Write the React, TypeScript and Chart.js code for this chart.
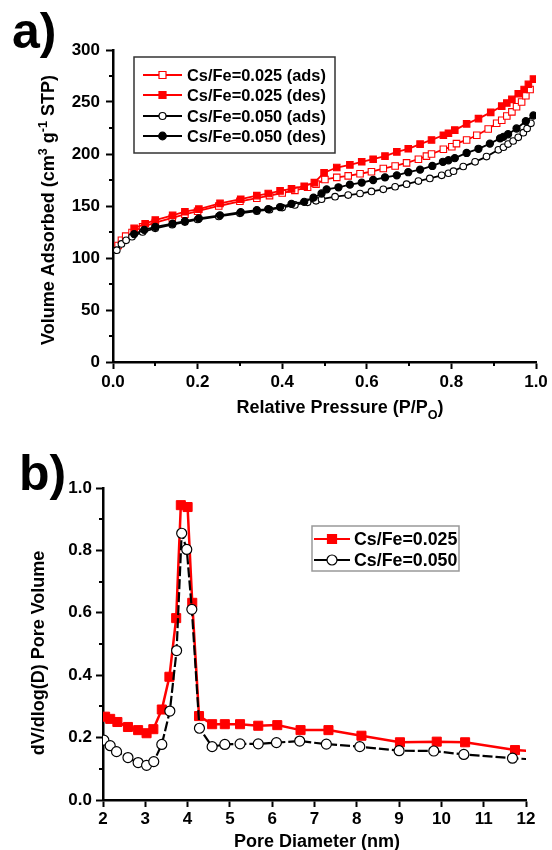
import React, { useEffect, useRef } from 'react';
import { Chart, registerables } from 'chart.js';

Chart.register(...registerables);

const FONT = '"Liberation Sans", Arial, Helvetica, sans-serif';
const RED = '#ff0000';
const BLACK = '#000000';

// ---------------- Panel a: N2 isotherms ----------------
const isoXTicks = [0, 0.2, 0.4, 0.6, 0.8, 1.0];
const isoYTicks = [0, 50, 100, 150, 200, 250, 300];
const isoXMinor = [0.1, 0.3, 0.5, 0.7, 0.9];
const isoYMinor = [25, 75, 125, 175, 225, 275];

const ads025P = [0.012, 0.02, 0.03, 0.045, 0.07, 0.1, 0.14, 0.17, 0.2, 0.25, 0.3, 0.34, 0.37, 0.40, 0.43, 0.46, 0.48, 0.501, 0.529, 0.556, 0.584, 0.611, 0.639, 0.667, 0.694, 0.722, 0.741, 0.753, 0.781, 0.801, 0.812, 0.836, 0.86, 0.887, 0.907, 0.919, 0.931, 0.943, 0.954, 0.966, 0.976, 0.986];
const ads025V = [112, 117, 121, 124.5, 130, 134, 138.5, 142, 145, 150, 154.5, 157.5, 160, 162.5, 165, 168, 171, 175.5, 177.5, 179, 181, 183, 186, 188.5, 191.5, 195, 198, 200, 204.5, 207, 210, 213.5, 218, 224, 229.5, 232.5, 236.5, 240.5, 245.5, 250, 256, 262];

const des025P = [0.05, 0.076, 0.10, 0.141, 0.17, 0.203, 0.253, 0.302, 0.34, 0.367, 0.395, 0.422, 0.452, 0.476, 0.499, 0.529, 0.56, 0.588, 0.615, 0.643, 0.671, 0.698, 0.726, 0.753, 0.781, 0.793, 0.808, 0.836, 0.864, 0.893, 0.919, 0.931, 0.943, 0.958, 0.972, 0.982, 0.994];
const des025V = [128.5, 133, 136.5, 141, 144.5, 147, 152.5, 156.5, 160, 162, 164.5, 166.5, 169, 172.5, 182, 187, 189.5, 192.5, 195, 198, 202, 205, 209.5, 213.5, 218, 220, 223, 229, 234, 240, 246, 249, 252.5, 258, 262, 267, 272];

const ads050P = [0.009, 0.02, 0.031, 0.045, 0.07, 0.1, 0.14, 0.17, 0.2, 0.25, 0.3, 0.34, 0.37, 0.40, 0.43, 0.46, 0.48, 0.493, 0.525, 0.556, 0.584, 0.611, 0.639, 0.667, 0.694, 0.722, 0.749, 0.777, 0.793, 0.805, 0.828, 0.856, 0.883, 0.911, 0.923, 0.934, 0.946, 0.958, 0.97, 0.979, 0.988];
const ads050V = [107.5, 113.5, 117, 120.5, 125, 128.5, 132, 134.5, 137, 140, 143, 145, 146.5, 148.5, 151, 153.5, 155, 156.5, 159, 160.5, 162, 164, 166, 168.5, 171, 174, 176.5, 179.5, 181.5, 183.5, 188, 192.5, 197.5, 204, 206.5, 209.5, 212.5, 216, 220.5, 224.5, 229.5];

const des050P = [0.05, 0.074, 0.10, 0.141, 0.17, 0.203, 0.253, 0.302, 0.34, 0.367, 0.395, 0.422, 0.452, 0.474, 0.493, 0.505, 0.533, 0.56, 0.588, 0.615, 0.643, 0.671, 0.698, 0.726, 0.755, 0.78, 0.793, 0.808, 0.836, 0.864, 0.891, 0.915, 0.923, 0.934, 0.954, 0.976, 0.994];
const des050V = [123, 127, 130, 133, 135.5, 138, 141, 144, 146, 147, 149, 152, 154, 158, 162, 166, 168, 170.5, 172.5, 175, 177.5, 179.5, 182.5, 185, 188.5, 192.5, 194, 196, 201, 205, 210, 215, 216.5, 219, 224.5, 231.5, 237];

const isoLabels = ['Cs/Fe=0.025 (ads)', 'Cs/Fe=0.025 (des)', 'Cs/Fe=0.050 (ads)', 'Cs/Fe=0.050 (des)'];

// ---------------- Panel b: pore size distribution ----------------
const psdXTicks = [2, 3, 4, 5, 6, 7, 8, 9, 10, 11, 12];
const psdYTicks = [0, 0.2, 0.4, 0.6, 0.8, 1.0];
const psdYMinor = [0.1, 0.3, 0.5, 0.7, 0.9];

const psd025D = [2.05, 2.17, 2.34, 2.59, 2.83, 3.03, 3.19, 3.39, 3.57, 3.73, 3.84, 4.0, 4.11, 4.27, 4.58, 4.88, 5.24, 5.67, 6.12, 6.67, 7.33, 8.11, 9.02, 9.89, 10.56, 11.74, 12.9];
const psd025V = [0.267, 0.26, 0.25, 0.234, 0.224, 0.214, 0.227, 0.29, 0.395, 0.583, 0.945, 0.939, 0.632, 0.269, 0.243, 0.243, 0.243, 0.238, 0.24, 0.224, 0.224, 0.206, 0.185, 0.187, 0.185, 0.16, 0.15];

const psd050D = [2.02, 2.17, 2.32, 2.59, 2.83, 3.03, 3.2, 3.39, 3.58, 3.74, 3.86, 3.98, 4.1, 4.28, 4.58, 4.88, 5.24, 5.67, 6.1, 6.65, 7.28, 8.07, 9.0, 9.82, 10.53, 11.68, 12.8];
const psd050V = [0.192, 0.174, 0.155, 0.136, 0.12, 0.111, 0.123, 0.178, 0.285, 0.479, 0.855, 0.803, 0.611, 0.23, 0.171, 0.178, 0.18, 0.18, 0.184, 0.189, 0.179, 0.171, 0.158, 0.157, 0.146, 0.134, 0.125];

const psdLabels = ['Cs/Fe=0.025', 'Cs/Fe=0.050'];

// ---------------- helpers ----------------
type Run = { t: string; s?: 'sup' | 'sub' };

const pts = (xs: number[], ys: number[]) => xs.map((x, i) => ({ x, y: ys[i] }));

function drawRuns(ctx: CanvasRenderingContext2D, runs: Run[], cx: number, cy: number, size: number, rotate: boolean) {
  ctx.save();
  ctx.translate(cx, cy);
  if (rotate) ctx.rotate(-Math.PI / 2);
  const small = size * 0.7;
  const widths = runs.map((r) => {
    ctx.font = `bold ${r.s ? small : size}px ${FONT}`;
    return ctx.measureText(r.t).width;
  });
  const total = widths.reduce((a, b) => a + b, 0);
  let x = -total / 2;
  ctx.textAlign = 'left';
  ctx.textBaseline = 'alphabetic';
  ctx.fillStyle = '#000';
  runs.forEach((r, i) => {
    ctx.font = `bold ${r.s ? small : size}px ${FONT}`;
    const dy = r.s === 'sup' ? -size * 0.42 : r.s === 'sub' ? size * 0.32 : 0;
    ctx.fillText(r.t, x, size * 0.36 + dy);
    x += widths[i];
  });
  ctx.restore();
}

function drawMarker(ctx: CanvasRenderingContext2D, style: string, x: number, y: number, r: number, fill: string, stroke: string, lw: number) {
  ctx.beginPath();
  if (style === 'rect') ctx.rect(x - r, y - r, 2 * r, 2 * r);
  else ctx.arc(x, y, r, 0, Math.PI * 2);
  ctx.fillStyle = fill;
  ctx.fill();
  ctx.lineWidth = lw;
  ctx.strokeStyle = stroke;
  ctx.stroke();
}

type LegendEntry = { label: string; color: string; style: string; fill: string; r: number; dash?: number[] };

type DecorCfg = {
  minorX: number[];
  minorY: number[];
  xTitle: Run[];
  xTitlePos: [number, number];
  yTitle: Run[];
  yTitlePos: [number, number];
  titleSize: number;
  letter: string;
  letterPos: [number, number];
  legendBox: [number, number, number, number];
  legendBorder: string;
  legendRows: number[];
  legendLine: [number, number];
  legendTextX: number;
  legendFont: number;
  entries: LegendEntry[];
};

function makeDecor(id: string, cfg: DecorCfg) {
  return {
    id,
    afterDraw(chart: any) {
      const ctx: CanvasRenderingContext2D = chart.ctx;
      const ca = chart.chartArea;
      const xs = chart.scales.x;
      const ys = chart.scales.y;
      ctx.save();
      // minor ticks
      ctx.strokeStyle = '#000';
      ctx.lineWidth = 2;
      ctx.beginPath();
      cfg.minorX.forEach((v) => {
        const p = Math.round(xs.getPixelForValue(v));
        ctx.moveTo(p, ca.bottom);
        ctx.lineTo(p, ca.bottom + 4);
      });
      cfg.minorY.forEach((v) => {
        const p = Math.round(ys.getPixelForValue(v));
        ctx.moveTo(ca.left, p);
        ctx.lineTo(ca.left - 4, p);
      });
      ctx.stroke();
      // titles
      drawRuns(ctx, cfg.xTitle, cfg.xTitlePos[0], cfg.xTitlePos[1], cfg.titleSize, false);
      drawRuns(ctx, cfg.yTitle, cfg.yTitlePos[0], cfg.yTitlePos[1], cfg.titleSize, true);
      // legend
      const [bx, by, bw, bh] = cfg.legendBox;
      ctx.lineWidth = 1.5;
      ctx.strokeStyle = cfg.legendBorder;
      ctx.strokeRect(bx, by, bw, bh);
      cfg.entries.forEach((e, i) => {
        const y = cfg.legendRows[i];
        ctx.beginPath();
        ctx.setLineDash([]);
        ctx.strokeStyle = e.color;
        ctx.lineWidth = 2.2;
        ctx.moveTo(cfg.legendLine[0], y);
        ctx.lineTo(cfg.legendLine[1], y);
        ctx.stroke();
        const mx = (cfg.legendLine[0] + cfg.legendLine[1]) / 2;
        drawMarker(ctx, e.style, mx, y, e.r, e.fill, e.color, 1.2);
        ctx.fillStyle = '#000';
        ctx.font = `bold ${cfg.legendFont}px ${FONT}`;
        ctx.textAlign = 'left';
        ctx.textBaseline = 'alphabetic';
        ctx.fillText(e.label, cfg.legendTextX, y + cfg.legendFont * 0.36);
      });
      // panel letter
      ctx.fillStyle = '#000';
      ctx.font = `bold 50px ${FONT}`;
      ctx.textAlign = 'left';
      ctx.textBaseline = 'alphabetic';
      ctx.fillText(cfg.letter, cfg.letterPos[0], cfg.letterPos[1]);
      ctx.restore();
    },
  };
}

function axisOpts(ticks: number[], min: number, max: number, fmt: (v: number) => string, fitSize: number, horizontal: boolean, pad: number) {
  return {
    type: 'linear' as const,
    min,
    max,
    afterBuildTicks: (scale: any) => {
      scale.ticks = ticks.map((v) => ({ value: v }));
    },
    afterFit: (scale: any) => {
      if (horizontal) scale.height = fitSize;
      else scale.width = fitSize;
    },
    grid: {
      display: true,
      drawOnChartArea: false,
      drawTicks: true,
      tickLength: 7,
      tickWidth: 2,
      tickColor: '#000',
    },
    border: { display: true, color: '#000', width: 2.5 },
    ticks: {
      color: '#000',
      padding: pad,
      maxRotation: 0,
      autoSkip: false,
      font: { family: FONT, size: 17, weight: 'bold' as const },
      callback: (v: any) => fmt(Number(v)),
    },
  };
}

function IsothermChart() {
  const ref = useRef<HTMLCanvasElement>(null);
  useEffect(() => {
    if (!ref.current) return;
    const line = (data: any, color: string, style: string, fill: string, r: number, order: number) => ({
      data,
      borderColor: color,
      borderWidth: 1.8,
      pointStyle: style,
      pointRadius: r,
      pointBackgroundColor: fill,
      pointBorderColor: color,
      pointBorderWidth: 1.1,
      tension: 0,
      fill: false,
      order,
    });
    const chart = new Chart(ref.current, {
      type: 'line',
      data: {
        datasets: [
          { label: isoLabels[0], ...line(pts(ads025P, ads025V), RED, 'rect', '#ffffff', 4.6, 3) },
          { label: isoLabels[1], ...line(pts(des025P, des025V), RED, 'rect', RED, 4.6, 2) },
          { label: isoLabels[2], ...line(pts(ads050P, ads050V), BLACK, 'circle', '#ffffff', 3.3, 1) },
          { label: isoLabels[3], ...line(pts(des050P, des050V), BLACK, 'circle', BLACK, 3.6, 0) },
        ],
      },
      options: {
        responsive: false,
        animation: false,
        devicePixelRatio: 1,
        layout: { padding: { top: 50, right: 16, left: 0, bottom: 0 } },
        plugins: { legend: { display: false }, tooltip: { enabled: false } },
        scales: {
          x: axisOpts(isoXTicks, 0, 1, (v) => v.toFixed(1), 63, true, 3),
          y: axisOpts(isoYTicks, 0, 300, (v) => String(v), 113, false, 6),
        },
      } as any,
      plugins: [
        makeDecor('decorA', {
          minorX: isoXMinor,
          minorY: isoYMinor,
          xTitle: [{ t: 'Relative Pressure (P/P' }, { t: 'O', s: 'sub' }, { t: ')' }],
          xTitlePos: [340, 407],
          yTitle: [{ t: 'Volume Adsorbed (cm' }, { t: '3', s: 'sup' }, { t: ' g' }, { t: '-1', s: 'sup' }, { t: ' STP)' }],
          yTitlePos: [48, 210],
          titleSize: 18,
          letter: 'a)',
          letterPos: [12, 48],
          legendBox: [134, 57, 201, 96],
          legendBorder: '#333333',
          legendRows: [75, 95, 116, 136],
          legendLine: [143, 182],
          legendTextX: 187,
          legendFont: 16.4,
          entries: [
            { label: isoLabels[0], color: RED, style: 'rect', fill: '#ffffff', r: 3.5 },
            { label: isoLabels[1], color: RED, style: 'rect', fill: RED, r: 3.5 },
            { label: isoLabels[2], color: BLACK, style: 'circle', fill: '#ffffff', r: 3.5 },
            { label: isoLabels[3], color: BLACK, style: 'circle', fill: BLACK, r: 3.8 },
          ],
        }),
      ],
    });
    return () => chart.destroy();
  }, []);
  return <canvas ref={ref} width={552} height={425} style={{ display: 'block', width: 552, height: 425 }} />;
}

function PsdChart() {
  const ref = useRef<HTMLCanvasElement>(null);
  useEffect(() => {
    if (!ref.current) return;
    const chart = new Chart(ref.current, {
      type: 'line',
      data: {
        datasets: [
          {
            label: psdLabels[0],
            data: pts(psd025D, psd025V),
            borderColor: RED,
            borderWidth: 2.5,
            pointStyle: 'rect',
            pointRadius: 6.4,
            pointBackgroundColor: RED,
            pointBorderColor: RED,
            pointBorderWidth: 1,
            tension: 0,
            order: 1,
          },
          {
            label: psdLabels[1],
            data: pts(psd050D, psd050V),
            borderColor: BLACK,
            borderWidth: 2.2,
            borderDash: [10, 3],
            pointStyle: 'circle',
            pointRadius: 5,
            pointBackgroundColor: '#ffffff',
            pointBorderColor: BLACK,
            pointBorderWidth: 1.2,
            tension: 0,
            order: 0,
          },
        ],
      },
      options: {
        responsive: false,
        animation: false,
        devicePixelRatio: 1,
        layout: { padding: { top: 63, right: 26, left: 0, bottom: 0 } },
        plugins: { legend: { display: false }, tooltip: { enabled: false } },
        scales: {
          x: axisOpts(psdXTicks, 2, 12, (v) => String(v), 50, true, 2),
          y: axisOpts(psdYTicks, 0, 1, (v) => v.toFixed(1), 103, false, 4),
        },
      } as any,
      plugins: [
        makeDecor('decorB', {
          minorX: [],
          minorY: psdYMinor,
          xTitle: [{ t: 'Pore Diameter (nm)' }],
          xTitlePos: [317, 416],
          yTitle: [{ t: 'dV/dlog(D) Pore Volume' }],
          yTitlePos: [38, 228],
          titleSize: 18,
          letter: 'b)',
          letterPos: [19, 65],
          legendBox: [312, 101, 147, 45],
          legendBorder: '#999999',
          legendRows: [114, 135],
          legendLine: [314, 350],
          legendTextX: 354,
          legendFont: 17.8,
          entries: [
            { label: psdLabels[0], color: RED, style: 'rect', fill: RED, r: 4.5 },
            { label: psdLabels[1], color: BLACK, style: 'circle', fill: '#ffffff', r: 5 },
          ],
        }),
      ],
    });
    return () => chart.destroy();
  }, []);
  return <canvas ref={ref} width={552} height={425} style={{ display: 'block', width: 552, height: 425 }} />;
}

export default function App() {
  return (
    <div style={{ position: 'absolute', left: 0, top: 0, width: 552, height: 850, background: '#ffffff' }}>
      <IsothermChart />
      <PsdChart />
    </div>
  );
}
